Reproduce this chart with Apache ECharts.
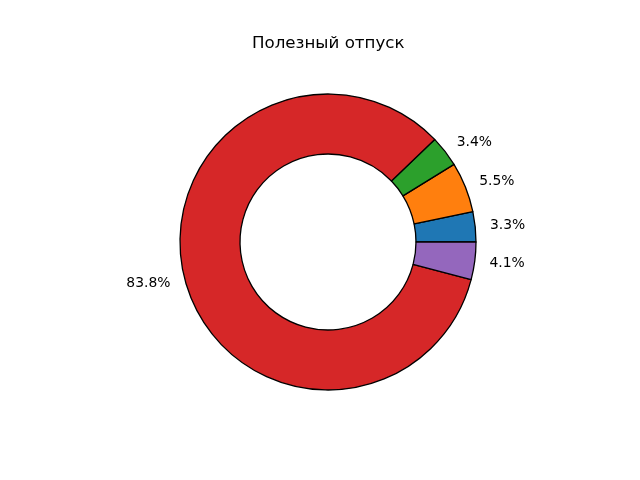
<!DOCTYPE html>
<html>
<head>
<meta charset="utf-8">
<script src="https://cdn.jsdelivr.net/npm/echarts@6/dist/echarts.min.js"></script>
<style>html,body{margin:0;padding:0;background:#fff}#c{width:640px;height:480px}</style>
</head>
<body>
<div id="c"></div>
<script>
const title = "Полезный отпуск";
const categories = ["A", "B", "C", "D", "E"];
const values = [3.3, 5.5, 3.4, 83.8, 4.1];
const colors = ["#1f77b4", "#ff7f0e", "#2ca02c", "#d62728", "#9467bd"];

const chart = echarts.init(document.getElementById('c'), null, {renderer: 'canvas'});
chart.setOption({
  animation: false,
  backgroundColor: '#ffffff',
  title: {
    text: title,
    left: 247,
    top: 30,
    textStyle: {fontFamily: 'DejaVu Sans', fontSize: 16.67, fontWeight: 'normal', color: '#000'}
  },
  series: [{
    type: 'pie',
    center: [328, 242],
    radius: [88, 148],
    startAngle: 0,
    clockwise: false,
    avoidLabelOverlap: false,
    data: categories.map((c, i) => ({name: c, value: values[i], itemStyle: {color: colors[i]}})),
    itemStyle: {borderColor: '#000', borderWidth: 1.3},
    label: {
      show: true,
      position: 'outside',
      distanceToLabelLine: 0,
      fontFamily: 'DejaVu Sans',
      fontSize: 13.9,
      color: '#000',
      formatter: p => p.value.toFixed(1) + '%'
    },
    labelLine: {show: false, length: 14.8, length2: 0},
    emphasis: {disabled: true}
  }]
});
</script>
</body>
</html>
